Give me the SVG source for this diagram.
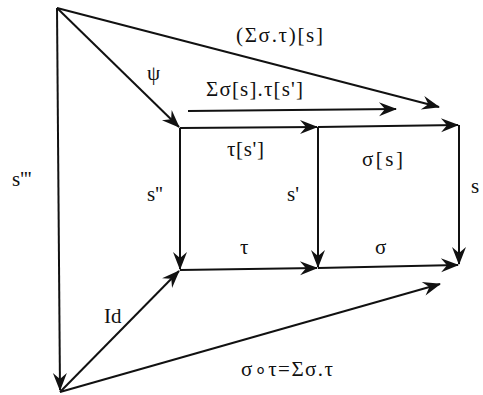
<svg xmlns="http://www.w3.org/2000/svg" width="483" height="395" viewBox="0 0 483 395">
<style>
.c{stroke:#111;stroke-width:2;fill:none;marker-end:url(#ah)}
.t{font-family:"Liberation Serif","Times New Roman",serif;font-size:21px;fill:#111}
</style>
<defs>
<marker id="ah" markerUnits="userSpaceOnUse" markerWidth="24" markerHeight="20" viewBox="-20 -10 24 20" refX="0" refY="0" orient="auto">
<path d="M1,0 L-17,-7 L-11,0 L-17,7 Z" fill="#111"/>
</marker>
</defs>
<rect width="483" height="395" fill="#fff"/>
<g id="connectors">
<path class="c" d="M57,8 L179,127"/>
<path class="c" d="M57,8 L439,107"/>
<path class="c" d="M188,111 L396,109"/>
<path class="c" d="M180,128 L317,127"/>
<path class="c" d="M318,127 L458,125"/>
<path class="c" d="M180,128 L180,269"/>
<path class="c" d="M318,127 L318,267"/>
<path class="c" d="M459,125 L459,264"/>
<path class="c" d="M180,270 L317,268"/>
<path class="c" d="M318,268 L458,265"/>
<path class="c" d="M57,8 L60,390"/>
<path class="c" d="M60,392 L179,271"/>
<path class="c" d="M60,392 L440,284"/>
</g>
<g id="node-top"><text class="t" x="236" y="42" textLength="87">(Σσ.τ)[s]</text></g>
<g id="node-psi"><text class="t" x="147" y="80">ψ</text></g>
<g id="node-sum"><text class="t" x="206" y="96" textLength="97">Σσ[s].τ[s']</text></g>
<g id="node-tau-s"><text class="t" x="227" y="156" textLength="37">τ[s']</text></g>
<g id="node-sigma-s"><text class="t" x="362" y="166" textLength="41">σ[s]</text></g>
<g id="node-s3"><text class="t" x="12" y="186">s'''</text></g>
<g id="node-s2"><text class="t" x="147" y="201">s''</text></g>
<g id="node-s1"><text class="t" x="287" y="201">s'</text></g>
<g id="node-s"><text class="t" x="471" y="193">s</text></g>
<g id="node-tau"><text class="t" x="240" y="254">τ</text></g>
<g id="node-sigma"><text class="t" x="375" y="254">σ</text></g>
<g id="node-id"><text class="t" x="104" y="323">Id</text></g>
<g id="node-comp"><text class="t" x="241" y="376" textLength="92">σ∘τ=Σσ.τ</text></g>
</svg>
